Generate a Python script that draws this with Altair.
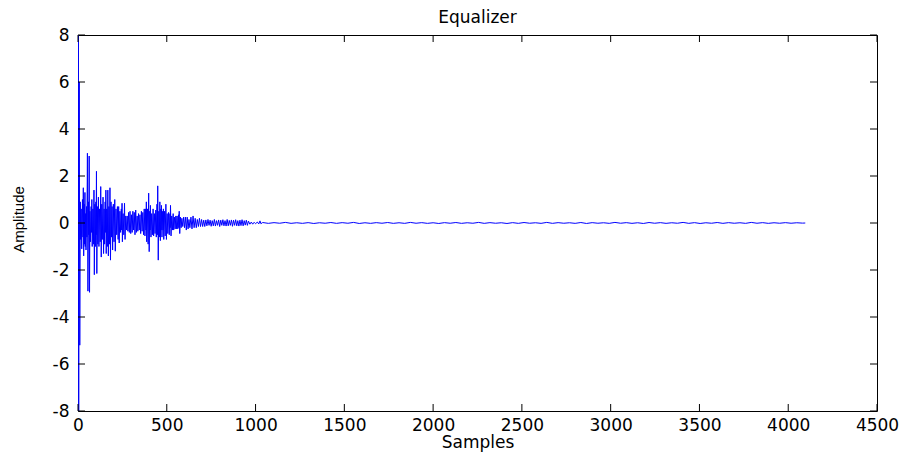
import altair as alt
import pandas as pd

# (sample, amplitude): main burst, first ~720 samples
HEAD = [
    (0, 0.0), (2, 8.0), (4, -8.0), (7, 6.0), (10, -5.2), (13, 0.9), (15, -0.7),
    (18, 0.6), (21, -1.1), (25, 1.0), (28, -0.6), (30, 1.5), (32, -1.4), (35, 0.8),
    (37, -0.9), (39, 1.3), (41, -1.0), (43, 0.4), (45, -1.15), (48, 0.7), (50, -0.6),
    (53, 2.97), (56, -2.9), (59, 0.9), (61, -0.5), (63, 2.85), (65, -2.95), (67, 0.5),
    (70, -0.8), (74, 0.7), (76, -0.4), (78, 1.0), (80, -1.0), (84, 0.6), (87, -0.9),
    (90, 1.4), (92, -2.2), (95, 0.8), (98, -1.0), (101, 0.9), (102, -0.5), (104, 2.2),
    (106, -2.15), (109, 0.7), (112, -0.9), (115, 1.1), (118, -1.0), (121, 0.6),
    (125, -0.8), (128, 1.55), (131, -1.45), (134, 0.8), (137, -0.7), (141, 1.1),
    (144, -1.3), (147, 0.6), (150, -0.9), (153, 0.9), (155, -0.4), (157, 1.4),
    (159, -1.3), (162, 0.6), (165, -1.0), (168, 1.4), (171, -1.4), (174, 0.7),
    (177, -0.9), (180, 1.5), (183, -1.58), (186, 0.9), (189, -0.6), (192, 0.7),
    (195, -1.15), (199, 0.8), (203, -0.8), (207, 1.0), (210, -1.2), (214, 0.6),
    (218, -0.5), (222, 0.7), (226, -0.7), (229, 0.7), (232, -0.85), (236, 0.5),
    (240, -0.4), (244, 0.6), (246, -0.3), (248, 0.84), (250, -0.8), (254, 0.4),
    (258, -0.5), (262, 0.84), (265, -0.7), (269, 0.3), (273, -0.3), (277, 0.3),
    (281, -0.35), (285, 0.45), (289, -0.4), (293, 0.5), (297, -0.45), (301, 0.35),
    (305, -0.4), (309, 0.5), (313, -0.3), (317, 0.45), (321, -0.5), (325, 0.55),
    (329, -0.4), (333, 0.3), (337, -0.35), (341, 0.4), (345, -0.3), (349, 0.35),
    (353, -0.45), (357, 0.5), (361, -0.35), (365, 0.45), (369, -0.5), (373, 0.6),
    (377, -0.55), (381, 0.6), (383, -0.3), (385, 0.9), (387, -0.8), (391, 0.6),
    (395, -0.9), (398, 1.27), (401, -1.22), (404, 0.5), (406, -0.3), (408, 0.75),
    (411, -0.6), (415, 0.4), (419, -0.5), (423, 0.6), (426, -0.55), (430, 0.4),
    (434, -0.45), (438, 0.55), (441, -0.6), (445, 0.8), (447, -0.5), (449, 1.58),
    (452, -1.58), (455, 0.5), (458, -0.6), (461, 0.9), (464, -0.75), (467, 0.6),
    (468, -0.3), (470, 0.75), (473, -0.6), (477, 0.5), (479, -0.3), (481, 0.6),
    (483, -0.7), (487, 0.5), (491, -0.55), (495, 0.8), (498, -0.7), (502, 0.4),
    (506, -0.45), (510, 0.45), (514, -0.5), (518, 0.4), (519, -0.2), (521, 0.75),
    (524, -0.55), (528, 0.3), (532, -0.3), (536, 0.4), (539, -0.3), (543, 0.25),
    (547, -0.25), (551, 0.3), (554, -0.25), (558, 0.3), (562, -0.25), (566, 0.35),
    (568, -0.2), (570, 0.5), (573, -0.45), (577, 0.25), (581, -0.2), (585, 0.2),
    (590, -0.15), (595, 0.25), (600, -0.2), (605, 0.25), (610, -0.3), (615, 0.25),
    (620, -0.25), (625, 0.15), (630, -0.2), (636, 0.25), (642, -0.25), (648, 0.3),
    (654, -0.2), (660, 0.2), (666, -0.2), (672, 0.15), (678, -0.15), (684, 0.2),
    (690, -0.15), (696, 0.15), (702, -0.15), (708, 0.12), (714, -0.15),
]

# decaying ripple, ~720-1030 samples
MID = [
    (720, 0.13), (726, -0.12), (732, 0.15), (738, -0.1), (744, 0.12), (750, -0.14),
    (756, 0.1), (762, -0.12), (768, 0.15), (774, -0.13), (780, 0.1), (786, -0.1),
    (792, 0.13), (798, -0.15), (804, 0.12), (810, -0.1), (816, 0.14), (822, -0.12),
    (828, 0.1), (834, -0.13), (840, 0.15), (846, -0.12), (852, 0.11), (858, -0.1),
    (864, 0.13), (870, -0.14), (876, 0.12), (882, -0.1), (888, 0.14), (894, -0.12),
    (900, 0.1), (906, -0.13), (912, 0.12), (918, -0.11), (924, 0.14), (930, -0.12),
    (936, 0.1), (942, -0.09), (948, 0.12), (954, -0.1), (960, 0.08), (968, -0.05),
    (976, 0.04), (984, -0.05), (992, 0.03), (1000, -0.03), (1010, 0.04),
    (1018, -0.04), (1025, 0.09), (1030, -0.03),
]

# near-flat tail, one value every 32 samples from 1040, ending at sample 4096
TAIL_VALUES = [
    0.02, -0.015, 0.015, -0.01, 0.025, -0.015, 0.01, -0.015, 0.015, -0.02,
    0.01, -0.01, 0.02, -0.015, 0.015, -0.01, 0.025, -0.02, 0.01, -0.015,
    0.015, -0.01, 0.02, -0.015, 0.01, -0.015, 0.025, -0.01, 0.015, -0.015,
    0.01, -0.02, 0.015, -0.01, 0.02, -0.015, 0.01, -0.01, 0.025, -0.015,
    0.015, -0.01, 0.01, -0.02, 0.015, -0.015, 0.02, -0.01, 0.01, -0.015,
    0.025, -0.015, 0.015, -0.01, 0.01, -0.015, 0.02, -0.02, 0.015, -0.01,
    0.01, -0.015, 0.025, -0.01, 0.015, -0.015, 0.01, -0.02, 0.02, -0.01,
    0.015, -0.015, 0.01, -0.01, 0.025, -0.015, 0.015, -0.02, 0.01, -0.01,
    0.02, -0.015, 0.015, -0.01, 0.01, -0.015, 0.025, -0.01, 0.015, -0.015,
    0.01, -0.01, 0.015, -0.01, 0.01, -0.005,
]
TAIL_SAMPLES = [1040 + 32 * i for i in range(len(TAIL_VALUES))]
LAST_SAMPLE, LAST_VALUE = 4096, 0.0

X_TICKS = [0, 500, 1000, 1500, 2000, 2500, 3000, 3500, 4000, 4500]
Y_TICKS = [-8, -6, -4, -2, 0, 2, 4, 6, 8]

samples = [s for s, _ in HEAD] + [s for s, _ in MID] + TAIL_SAMPLES + [LAST_SAMPLE]
values = [v for _, v in HEAD] + [v for _, v in MID] + TAIL_VALUES + [LAST_VALUE]
df = pd.DataFrame({"Samples": samples, "Amplitude": values})

W, H = 799, 376
FONT = "DejaVu Sans"
TICK = 7

xscale = alt.Scale(domain=[0, 4500], nice=False, zero=False)
yscale = alt.Scale(domain=[-8, 8], nice=False, zero=False)

line = alt.Chart(df).mark_line(color="#0000FF", strokeWidth=1, clip=True).encode(
    x=alt.X(
        "Samples:Q", scale=xscale,
        axis=alt.Axis(
            values=X_TICKS, ticks=False, domain=False, grid=False,
            labelExpr="toString(datum.value)",
            labelFont=FONT, labelFontSize=17, labelColor="black", labelPadding=6,
            labelFlush=False, labelOverlap=False,
            title="Samples", titleFont=FONT, titleFontSize=17, titleFontWeight="normal",
            titleColor="black", titleBaseline="alphabetic", titleY=36,
        ),
    ),
    y=alt.Y(
        "Amplitude:Q", scale=yscale,
        axis=alt.Axis(
            values=Y_TICKS, ticks=False, domain=False, grid=False,
            labelExpr="toString(datum.value)",
            labelFont=FONT, labelFontSize=17, labelColor="black", labelPadding=9,
            labelFlush=False, labelOverlap=False,
            title="Amplitude", titleFont="Liberation Sans", titleFontSize=15,
            titleFontWeight="normal", titleColor="black", titleAngle=270,
            titleBaseline="middle", titleAlign="center", titleX=-60, titleY=H / 2 - 4,
        ),
    ),
)

xt = pd.DataFrame({"t": X_TICKS})
yt = pd.DataFrame({"t": Y_TICKS})

xb = alt.Chart(xt).mark_rule(color="black", strokeWidth=1).encode(
    x=alt.X("t:Q", scale=xscale, axis=None), y=alt.value(H), y2=alt.value(H - TICK))
xtp = alt.Chart(xt).mark_rule(color="black", strokeWidth=1).encode(
    x=alt.X("t:Q", scale=xscale, axis=None), y=alt.value(0), y2=alt.value(TICK))
yl = alt.Chart(yt).mark_rule(color="black", strokeWidth=1).encode(
    y=alt.Y("t:Q", scale=yscale, axis=None), x=alt.value(0), x2=alt.value(TICK))
yr = alt.Chart(yt).mark_rule(color="black", strokeWidth=1).encode(
    y=alt.Y("t:Q", scale=yscale, axis=None), x=alt.value(W), x2=alt.value(W - TICK))

chart = alt.layer(line, xb, xtp, yl, yr).resolve_axis(
    x="independent", y="independent"
).properties(
    width=W, height=H,
    title=alt.TitleParams("Equalizer", font=FONT, fontSize=17, fontWeight="normal",
                          color="black", anchor="middle", offset=-1),
    padding={"left": 78, "top": 35, "right": 30, "bottom": 41},
    autosize=alt.AutoSizeParams(type="none"),
    background="white",
).configure_view(stroke="black", strokeWidth=1)

chart.save("out.html", embed_options={"renderer": "svg", "actions": False})
